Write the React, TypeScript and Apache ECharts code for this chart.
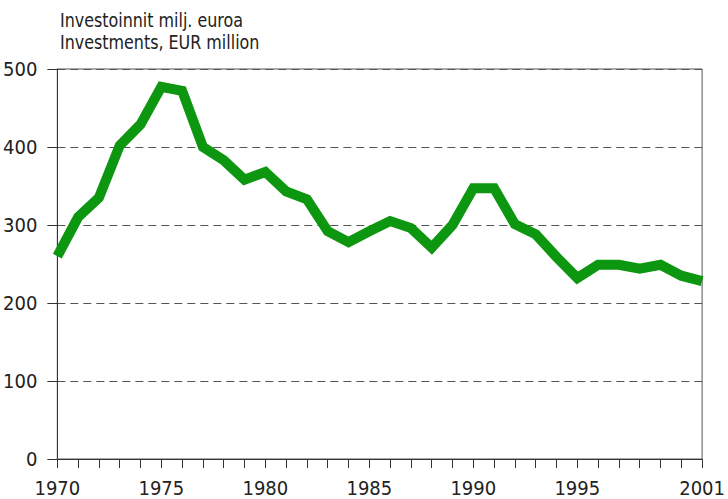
import React, { useEffect, useRef } from "react";
import * as echarts from "echarts";

const years: number[] = [
  1970, 1971, 1972, 1973, 1974, 1975, 1976, 1977, 1978, 1979, 1980,
  1981, 1982, 1983, 1984, 1985, 1986, 1987, 1988, 1989, 1990,
  1991, 1992, 1993, 1994, 1995, 1996, 1997, 1998, 1999, 2000, 2001,
];
const investments: number[] = [
  260, 310, 335, 402, 429, 477, 472, 400, 383, 358, 368,
  343, 333, 292, 278, 292, 305, 296, 271, 300, 347,
  347, 301, 288, 259, 232, 249, 249, 244, 249, 235, 228,
];
const xTickLabels: number[] = [1970, 1975, 1980, 1985, 1990, 1995, 2001];
const titleLines: string[] = ["Investoinnit milj. euroa", "Investments, EUR million"];

const FONT = "'DejaVu Sans Condensed', 'Liberation Sans Narrow', sans-serif";

export default function App() {
  const ref = useRef<HTMLDivElement>(null);
  useEffect(() => {
    if (!ref.current) return;
    const chart = echarts.init(ref.current, undefined, { renderer: "svg" });
    chart.setOption({
      animation: false,
      backgroundColor: "#ffffff",
      textStyle: { fontFamily: FONT },
      graphic: [
        {
          type: "text",
          x: 60,
          y: 9,
          scaleX: 0.885,
          style: {
            text: titleLines.join("\n"),
            font: `20px ${FONT}`,
            lineHeight: 22,
            fill: "#222",
          },
        },
      ],
      grid: {
        left: 57,
        right: 20,
        top: 69,
        bottom: 40,
        show: true,
        borderColor: "#555",
        borderWidth: 1,
        backgroundColor: "transparent",
      },
      xAxis: {
        type: "value",
        min: 1970,
        max: 2001,
        interval: 1,
        axisLine: { show: true, lineStyle: { color: "#333", width: 1 } },
        axisTick: { show: true, length: 9, lineStyle: { color: "#333" } },
        splitLine: { show: false },
        axisLabel: {
          margin: 19,
          fontSize: 20,
          color: "#222",
          fontFamily: FONT,
          formatter: (v: number) => (xTickLabels.includes(v) ? String(v) : ""),
          showMinLabel: true,
          showMaxLabel: true,
        },
      },
      yAxis: {
        type: "value",
        min: 0,
        max: 500,
        interval: 100,
        axisLine: { show: true, lineStyle: { color: "#333", width: 1 } },
        axisTick: { show: true, length: 10, lineStyle: { color: "#333" } },
        splitLine: {
          show: true,
          lineStyle: { color: "#555", type: [8, 5], width: 1 },
        },
        axisLabel: {
          margin: 20,
          fontSize: 20,
          color: "#222",
          fontFamily: FONT,
        },
      },
      series: [
        {
          type: "line",
          data: years.map((y, i) => [y, investments[i]]),
          showSymbol: false,
          symbol: "none",
          lineStyle: { color: "#0d960f", width: 10, join: "miter", cap: "butt" },
          z: 5,
        },
      ],
    });
    return () => chart.dispose();
  }, []);
  return <div ref={ref} style={{ width: 728, height: 499, position: "absolute", left: 0, top: 0 }} />;
}
